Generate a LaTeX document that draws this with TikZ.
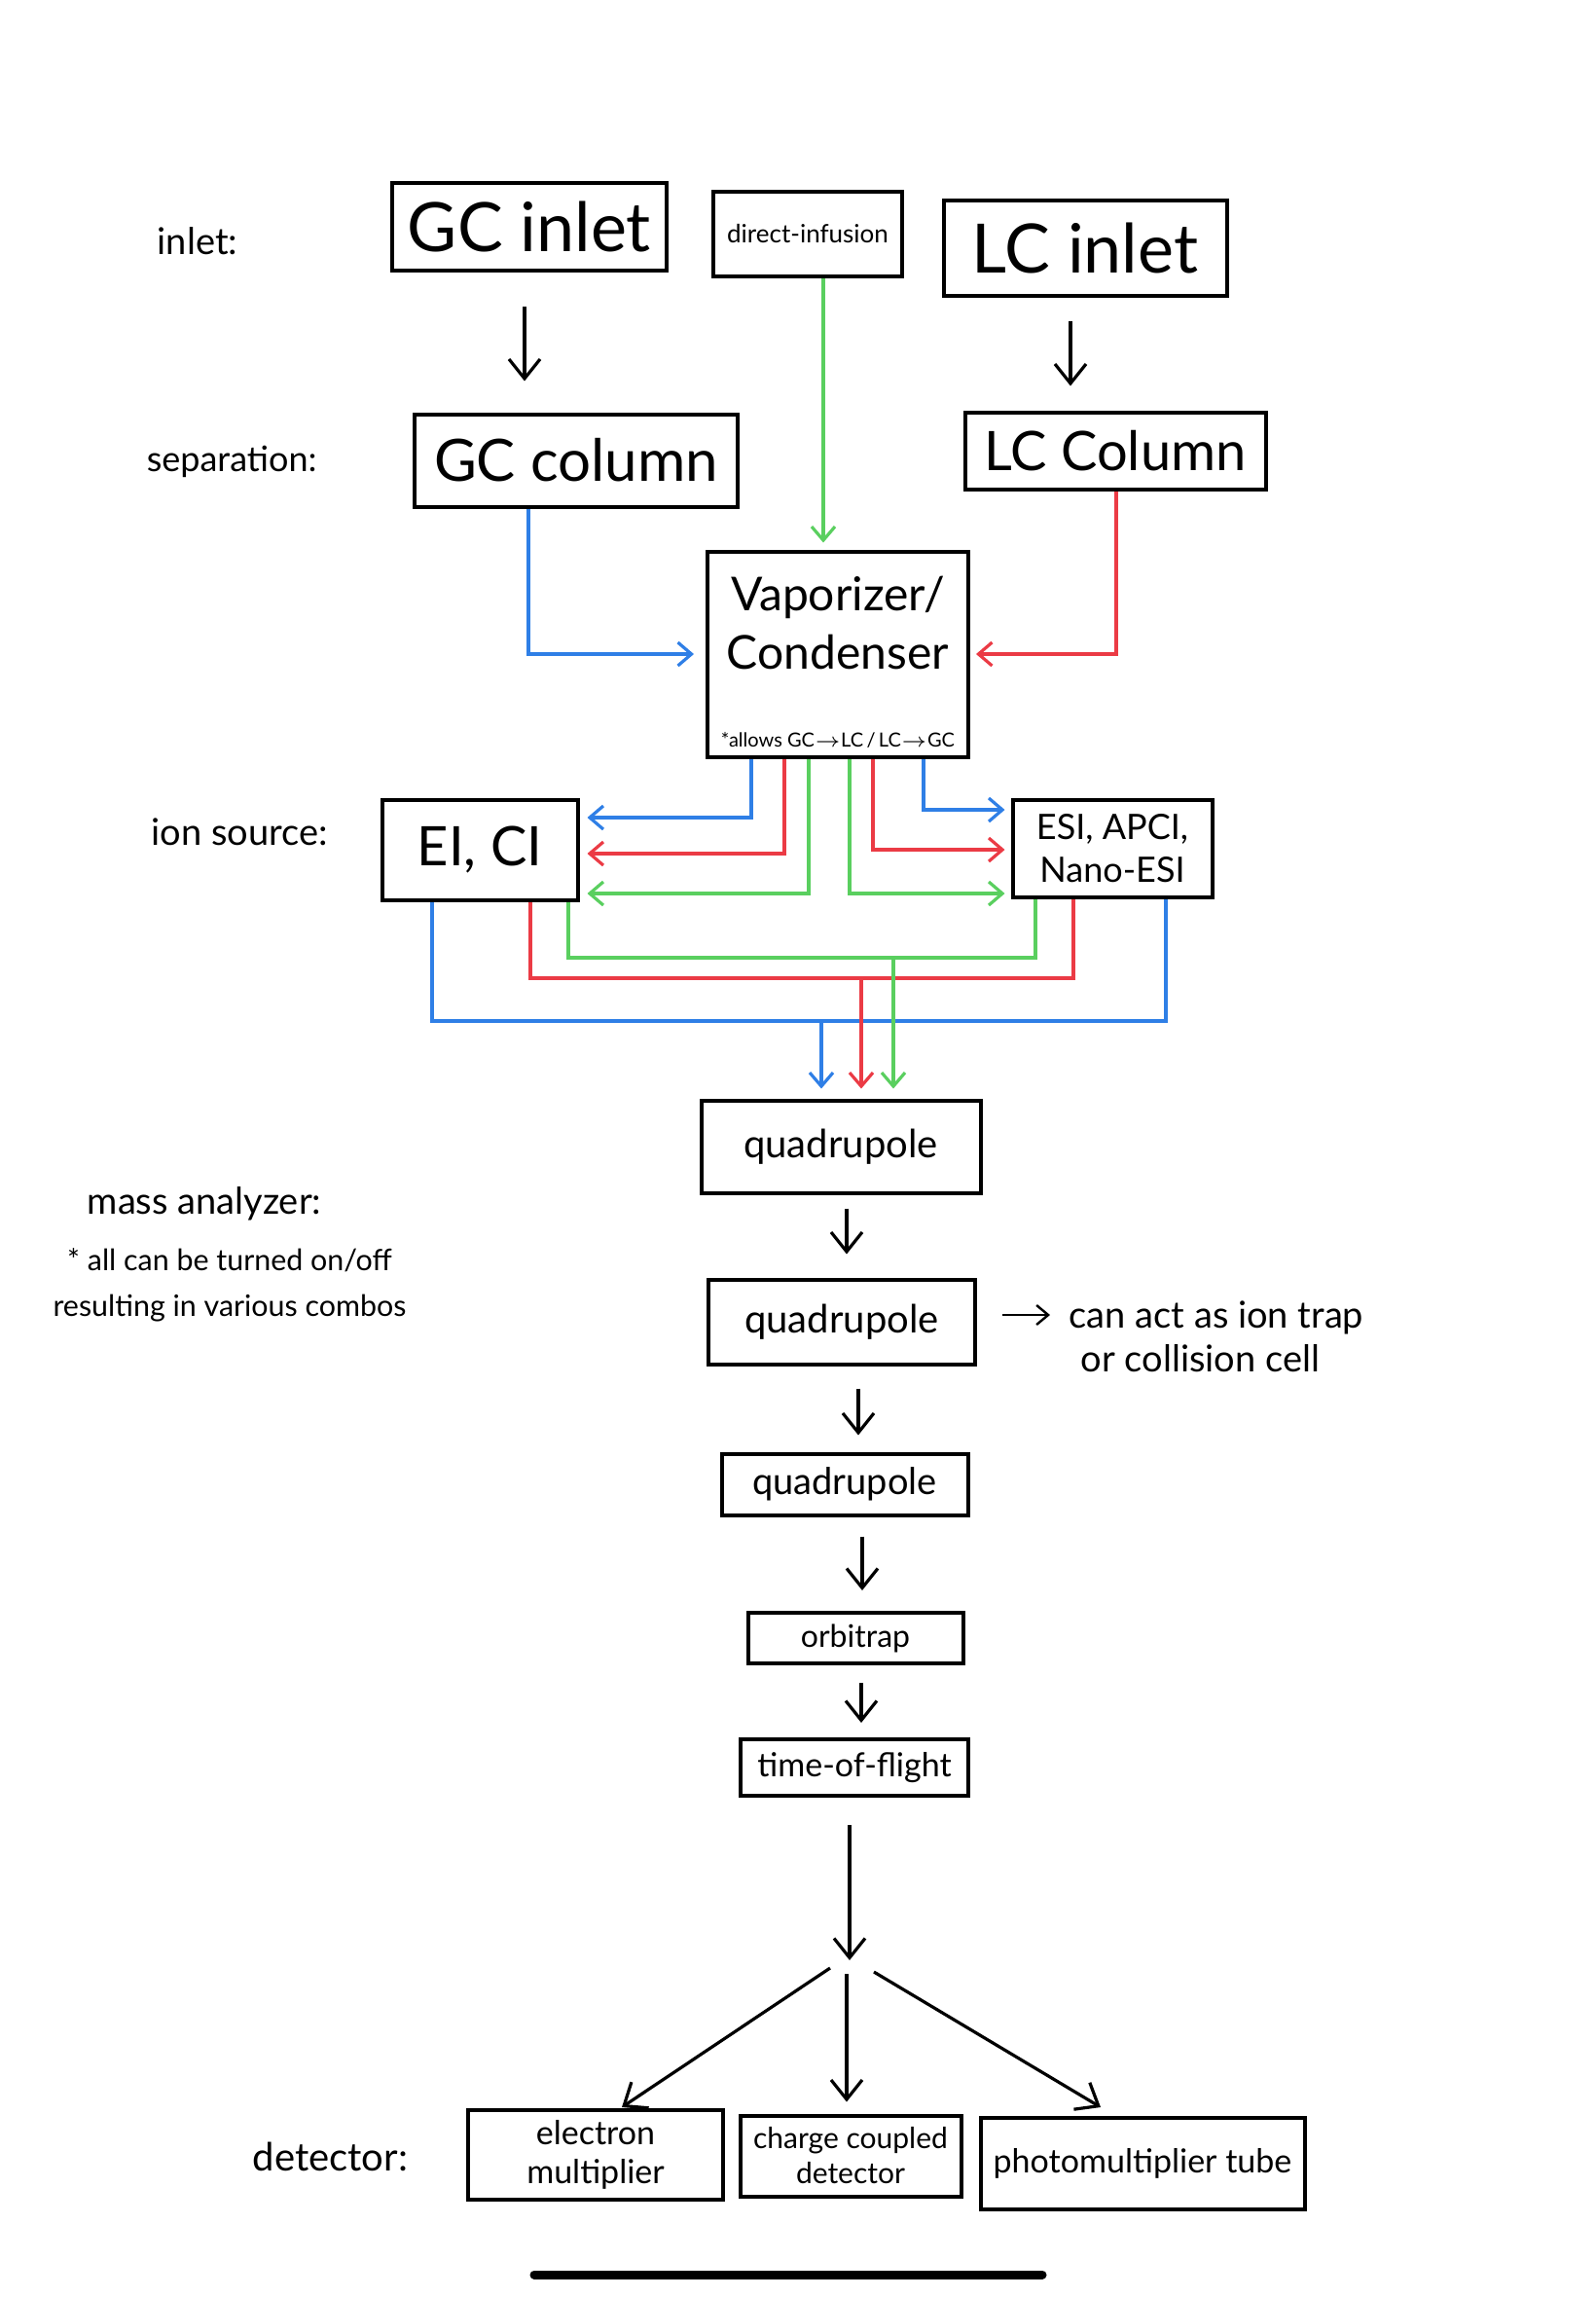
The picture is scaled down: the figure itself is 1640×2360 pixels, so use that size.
\documentclass[tikz,border=0pt]{standalone}
\usepackage{fontspec}
\setmainfont{Lato}
\usepackage{tikz}
\usetikzlibrary{arrows.meta,positioning,calc}
\definecolor{PathBlue}{HTML}{2F7FE6}
\definecolor{PathRed}{HTML}{EB3B45}
\definecolor{PathGreen}{HTML}{5ACF5F}

\begin{document}
\begin{tikzpicture}[x=0.25pt,y=-0.25pt,
  unit/.style={rectangle,draw=black,line width=1pt,inner sep=0pt,align=center},
  stage/.style={anchor=west,inner sep=0pt,font=\fontsize{9.5}{11}\selectfont},
  arr/.style={-{Straight Barb[length=5pt,width=8pt]},line width=0.8pt},
  bln/.style={PathBlue,line width=0.8pt},
  rln/.style={PathRed,line width=0.8pt},
  gln/.style={PathGreen,line width=0.8pt},
  barr/.style={bln,-{Straight Barb[length=3.5pt,width=6pt]}},
  rarr/.style={rln,-{Straight Barb[length=3.5pt,width=6pt]}},
  garr/.style={gln,-{Straight Barb[length=3.5pt,width=6pt]}}]
\useasboundingbox (0,0) rectangle (1640,2360);
% stage labels
\node[stage] (lblinlet) at (161,248) {inlet:};
\node[stage,font=\fontsize{9}{11}\selectfont] (lblsep) at (150,474) {separation:};
\node[stage] (lblion) at (155,855) {ion source:};
\node[stage] (lblmass) at (89,1237) {mass analyzer:};
\node[font=\fontsize{7.6}{11.75}\selectfont,align=center,inner sep=0pt] (massnote) at (236,1320)
  {* all can be turned on/off\\resulting in various combos};
\node[stage,font=\fontsize{10}{12}\selectfont] (lbldet) at (259,2216) {detector:};
% inlets and columns
\node[unit,minimum width=70.5pt,minimum height=22.5pt,font=\fontsize{17.5}{21}\selectfont] (gcin) at (544,233) {GC inlet};
\node[unit,minimum width=48.5pt,minimum height=21.75pt,font=\fontsize{6.5}{8}\selectfont] (di) at (830,240) {direct-infusion};
\node[unit,minimum width=72.75pt,minimum height=24.5pt,font=\fontsize{17.5}{21}\selectfont] (lcin) at (1115,255) {LC inlet};
\node[unit,minimum width=83pt,minimum height=23.75pt,font=\fontsize{15}{18}\selectfont] (gccol) at (592,473) {GC column};
\node[unit,minimum width=77.25pt,minimum height=19.75pt,font=\fontsize{14}{17}\selectfont] (lccol) at (1146,463) {LC Column};
\node[unit,minimum width=67pt,minimum height=52.75pt] (vap) at (861,672) {};
\node[font=\fontsize{12}{15}\selectfont,align=center] (vaptxt) at (861,640) {Vaporizer/\\Condenser};
\node[font=\fontsize{5}{6}\selectfont,inner sep=0pt] (vapnote) at (861,760) {*allows GC$\to$LC\,/\,LC$\to$GC};
% ion sources
\node[unit,minimum width=50.25pt,minimum height=25.75pt,font=\fontsize{14}{17}\selectfont] (ei) at (493,873) {EI, CI};
\node[unit,minimum width=51.25pt,minimum height=25pt,font=\fontsize{9}{11}\selectfont] (esi) at (1143,872) {ESI, APCI,\\Nano-ESI};
% mass analyzers
\node[unit,minimum width=71.75pt,minimum height=23.75pt,font=\fontsize{10}{12}\selectfont] (q1) at (864,1178) {quadrupole};
\node[unit,minimum width=68.5pt,minimum height=21.75pt,font=\fontsize{10}{12}\selectfont] (q2) at (865,1358) {quadrupole};
\node[unit,minimum width=63.25pt,minimum height=15.75pt,font=\fontsize{9.5}{11}\selectfont] (q3) at (868,1525) {quadrupole};
\node[unit,minimum width=55.25pt,minimum height=13pt,font=\fontsize{8}{10}\selectfont] (orb) at (879,1683) {orbitrap};
\node[unit,minimum width=58.5pt,minimum height=14.5pt,font=\fontsize{8.5}{10}\selectfont] (tof) at (878,1816) {time-of-flight};
\node[anchor=west,align=left,inner sep=0pt,font=\fontsize{9.5}{11.25}\selectfont] (qnote) at (1098,1373)
  {can act as ion trap\\\hspace*{3pt}or collision cell};
% detectors
\node[unit,minimum width=65.5pt,minimum height=23pt,font=\fontsize{8.5}{10}\selectfont] (em) at (612,2214) {electron\\multiplier};
\node[unit,minimum width=56.75pt,minimum height=20.75pt,font=\fontsize{7.5}{9}\selectfont] (ccd) at (874,2215) {charge coupled\\detector};
\node[unit,minimum width=83.25pt,minimum height=23.5pt,font=\fontsize{8.5}{10}\selectfont] (pmt) at (1174,2223) {photomultiplier tube};

% inlet -> separation -> vaporizer
\draw[arr] ([xshift=-1.25pt,yshift=-8.75pt]gcin.south) -- ([xshift=-13.25pt,yshift=8pt]gccol.north);
\draw[arr] ([xshift=-3.75pt,yshift=-6pt]lcin.south) -- ([xshift=-11.5pt,yshift=6.25pt]lccol.north);
\draw[garr] ([xshift=4pt]di.south) -- ([xshift=-3.75pt,yshift=1.75pt]vap.north);
\draw[barr] ([xshift=-12.25pt]gccol.south) |- ([xshift=-3pt]vap.west);
\draw[rarr] ([xshift=0.25pt]lccol.south) |- ([xshift=1.5pt]vap.east);
% vaporizer -> ion sources
\draw[barr] ([xshift=-22.25pt]vap.south) |- ([xshift=2pt,yshift=8.25pt]ei.east);
\draw[rarr] ([xshift=-13.75pt]vap.south) |- ([xshift=2pt,yshift=-1pt]ei.east);
\draw[garr] ([xshift=-7.5pt]vap.south) |- ([xshift=2pt,yshift=-11.25pt]ei.east);
\draw[garr] ([xshift=3pt]vap.south) |- ([xshift=-1.5pt,yshift=-11.5pt]esi.west);
\draw[rarr] ([xshift=9pt]vap.south) |- ([xshift=-1.5pt,yshift=-0.25pt]esi.west);
\draw[barr] ([xshift=22pt]vap.south) |- ([xshift=-1.5pt,yshift=10pt]esi.west);
% ion sources -> quadrupole
\coordinate (gbus) at (918,984);
\coordinate (rbus) at (885,1005);
\coordinate (bbus) at (844,1049);
\draw[gln] ([xshift=22.75pt]ei.south) |- (gbus) -| ([xshift=-19.75pt]esi.south);
\draw[rln] ([xshift=13pt]ei.south) |- (rbus) -| ([xshift=-10pt]esi.south);
\draw[bln] ([xshift=-12.25pt]ei.south) |- (bbus) -| ([xshift=13.75pt]esi.south);
\draw[garr] (gbus) -- ([xshift=13.5pt,yshift=2.5pt]q1.north);
\draw[rarr] (rbus) -- ([xshift=5.25pt,yshift=2.5pt]q1.north);
\draw[barr] (bbus) -- ([xshift=-5pt,yshift=2.5pt]q1.north);
% mass analyzer chain
\draw[arr] ([xshift=1.5pt,yshift=-3.5pt]q1.south) -- ([xshift=1.25pt,yshift=6pt]q2.north);
\draw[arr] ([xshift=4.25pt,yshift=-5.75pt]q2.south) -- ([xshift=3.5pt,yshift=4.25pt]q3.north);
\draw[arr] ([xshift=4.5pt,yshift=-5pt]q3.south) -- ([xshift=1.75pt,yshift=5.25pt]orb.north);
\draw[arr] ([xshift=1.5pt,yshift=-4.5pt]orb.south) -- ([xshift=1.75pt,yshift=3.75pt]tof.north);
\draw[arr,line width=0.6pt,-{Straight Barb[length=3pt,width=5pt]}] ([xshift=6.5pt,yshift=1.75pt]q2.east) -- ([xshift=-4.75pt,yshift=5.5pt]qnote.west);
% detectors
\coordinate (hub) at (873,2014);
\draw[arr] ([xshift=-1.25pt,yshift=-7pt]tof.south) -- (hub);
\draw[arr] ([shift={(-20,8)}]hub) -- ([xshift=6.75pt,yshift=0.25pt]em.north);
\draw[arr] ([shift={(-3,14)}]hub) -- ([xshift=-1pt,yshift=3pt]ccd.north);
\draw[arr] ([shift={(25,12)}]hub) -- ([xshift=-10.75pt,yshift=2.25pt]pmt.north);
% home bar
\draw[line width=2.25pt,line cap=round] (549,2337) -- (1071,2337);
\end{tikzpicture}
\end{document}
